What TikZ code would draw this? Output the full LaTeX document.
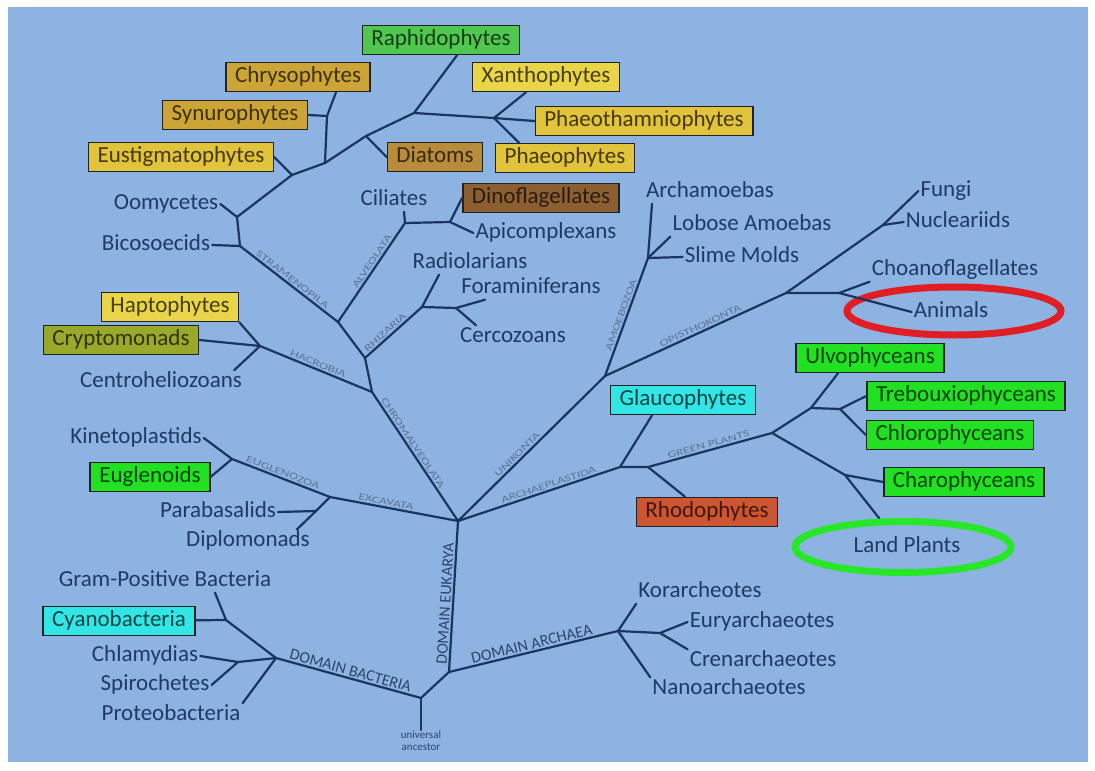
\documentclass[tikz,border=0pt]{standalone}
\usepackage{fontspec}
\setmainfont{Carlito}
\usetikzlibrary{shapes.geometric}

\definecolor{sea}{HTML}{8DB3E2}
\definecolor{navy}{HTML}{1A355F}
\definecolor{ink}{HTML}{1F3A66}
\definecolor{cladegray}{HTML}{5F7393}
\definecolor{domgray}{HTML}{2E4468}
\definecolor{boxline}{HTML}{222222}
\definecolor{raphgreen}{HTML}{50C850}
\definecolor{brightgreen}{HTML}{22E022}
\definecolor{mustard}{HTML}{CDA537}
\definecolor{goldyellow}{HTML}{E1C33C}
\definecolor{paleyellow}{HTML}{EAD548}
\definecolor{ochre}{HTML}{B98C3C}
\definecolor{cocoa}{HTML}{8C5F32}
\definecolor{olivebox}{HTML}{9AA92A}
\definecolor{aqua}{HTML}{33E6E6}
\definecolor{brick}{HTML}{CD5532}
\definecolor{ringred}{HTML}{E11E23}
\definecolor{ringgreen}{HTML}{28E628}

\newcommand{\wideclade}[1]{\scalebox{1.45}[1]{#1}}

\begin{document}
\begin{tikzpicture}[x=1pt,y=-1pt,
  limb/.style={draw=navy,line width=2.2pt,line cap=round,line join=round},
  taxon/.style={text=ink,font=\fontsize{23}{26}\selectfont,inner sep=2pt,text height=15pt,text depth=4pt},
  algabox/.style={taxon,draw=boxline,line width=1.6pt,fill=#1,text=#1!30!black,inner xsep=9pt,inner ysep=4pt,text height=16pt,text depth=5pt},
  clade/.style={text=cladegray,font=\fontsize{9.5}{11}\selectfont,sloped,above,inner sep=1.5pt},
  domainlbl/.style={text=domgray,font=\fontsize{16}{18}\selectfont,sloped,above,inner sep=1.5pt},
  ring/.style={ellipse,draw=#1,line width=7pt,inner sep=0pt}]
% Background
\fill[white] (0,0) rectangle (1095,771);
\fill[sea] (8,7) rectangle (1088,762);
\useasboundingbox (0,0) rectangle (1095,771);
% Junctions
\coordinate (jRoot) at (421,698);
\coordinate (jBact) at (276,658);
\coordinate (jGram) at (226,620);
\coordinate (jChla) at (238,662);
\coordinate (jNeo) at (449,672);
\coordinate (jArch) at (618,631);
\coordinate (jEury) at (660,633);
\coordinate (jEuk) at (458,521);
\coordinate (jExc) at (330,497);
\coordinate (jEugz) at (232,459);
\coordinate (jPara) at (316,511);
\coordinate (jChrom) at (372,392);
\coordinate (jHacr) at (260,346);
\coordinate (jSar) at (365,358);
\coordinate (jRhiz) at (422,307);
\coordinate (jForam) at (456,308);
\coordinate (jStal) at (338,322);
\coordinate (jAlv) at (405,223);
\coordinate (jDino) at (450,222);
\coordinate (jStram) at (240,246);
\coordinate (jOomy) at (237,217);
\coordinate (jEust) at (292,175);
\coordinate (jChry) at (325,163);
\coordinate (jSynu) at (327,116);
\coordinate (jDiat) at (366,136);
\coordinate (jRaph) at (414,113);
\coordinate (jPhaeo) at (494,118);
\coordinate (jUni) at (605,376);
\coordinate (jAmoe) at (648,258);
\coordinate (jOpis) at (786,293);
\coordinate (jFung) at (883,225);
\coordinate (jChoa) at (839,293);
\coordinate (jPlast) at (620,467);
\coordinate (jRhodo) at (648,467);
\coordinate (jGreen) at (772,433);
\coordinate (jChloro) at (811,408);
\coordinate (jTreb) at (840,409);
\coordinate (jStrep) at (845,475);
% Rings
\node[ring=ringred,minimum width=214,minimum height=48] (animalring) at (954,311) {};
\node[ring=ringgreen,minimum width=216,minimum height=51] (landring) at (903,547) {};
% Bacteria
\node[taxon] (gram) at (165,581) {Gram-Positive Bacteria};
\node[algabox=aqua] (cyano) at (119,621) {Cyanobacteria};
\node[taxon] (chlamy) at (145,656) {Chlamydias};
\node[taxon] (spiro) at (155,685) {Spirochetes};
\node[taxon] (proteo) at (171,715) {Proteobacteria};
\node[text=domgray,font=\fontsize{11}{12}\selectfont,align=center,inner sep=1pt] (ancestor) at (421,741) {universal\\ancestor};
% Archaea
\node[taxon] (kor) at (700,592) {Korarcheotes};
\node[taxon] (eury) at (762,622) {Euryarchaeotes};
\node[taxon] (cren) at (763,661) {Crenarchaeotes};
\node[taxon] (nano) at (729,689) {Nanoarchaeotes};
% Excavata
\node[taxon] (kineto) at (136,438) {Kinetoplastids};
\node[algabox=brightgreen] (eugl) at (150,477) {Euglenoids};
\node[taxon] (parab) at (218,512) {Parabasalids};
\node[taxon] (diplo) at (248,541) {Diplomonads};
% Chromalveolata
\node[algabox=paleyellow] (hapto) at (170,307) {Haptophytes};
\node[algabox=olivebox] (crypto) at (121,340) {Cryptomonads};
\node[taxon] (centro) at (161,382) {Centroheliozoans};
\node[taxon] (radio) at (470,263) {Radiolarians};
\node[taxon] (forams) at (531,288) {Foraminiferans};
\node[taxon] (cerco) at (513,337) {Cercozoans};
\node[taxon] (ciliates) at (394,200) {Ciliates};
\node[algabox=cocoa] (dinobox) at (541,198) {Dinoflagellates};
\node[taxon] (apico) at (546,233) {Apicomplexans};
\node[taxon] (oomy) at (166,204) {Oomycetes};
\node[taxon] (bicos) at (156,245) {Bicosoecids};
\node[algabox=goldyellow] (eustig) at (181,157) {Eustigmatophytes};
\node[algabox=mustard] (synuro) at (235,115) {Synurophytes};
\node[algabox=mustard] (chryso) at (298,77) {Chrysophytes};
\node[algabox=ochre] (diatoms) at (435,157) {Diatoms};
\node[algabox=raphgreen] (raphido) at (441,40) {Raphidophytes};
\node[algabox=paleyellow] (xantho) at (546,77) {Xanthophytes};
\node[algabox=goldyellow] (phaeotham) at (644,121) {Phaeothamniophytes};
\node[algabox=goldyellow] (phaeoph) at (565,158) {Phaeophytes};
% Unikonta
\node[taxon] (archam) at (710,192) {Archamoebas};
\node[taxon] (lobose) at (752,225) {Lobose Amoebas};
\node[taxon] (slime) at (742,257) {Slime Molds};
\node[taxon] (fungi) at (946,191) {Fungi};
\node[taxon] (nucl) at (958,222) {Nucleariids};
\node[taxon] (choano) at (955,270) {Choanoflagellates};
\node[taxon] (animals) at (951,312) {Animals};
% Archaeplastida
\node[algabox=aqua] (glauco) at (683,400) {Glaucophytes};
\node[algabox=brick] (rhodo) at (707,512) {Rhodophytes};
\node[algabox=brightgreen] (ulvo) at (870,358) {Ulvophyceans};
\node[algabox=brightgreen] (treb) at (966,396) {Trebouxiophyceans};
\node[algabox=brightgreen] (chloro) at (950,435) {Chlorophyceans};
\node[algabox=brightgreen] (charo) at (964,482) {Charophyceans};
\node[taxon] (landplants) at (907,547) {Land Plants};

% Domains
\draw[limb] (jRoot) -- (ancestor);
\draw[limb] (jBact) -- node[domainlbl] {DOMAIN BACTERIA} (jRoot) -- (jNeo);
\draw[limb] (jNeo) -- node[domainlbl] {DOMAIN ARCHAEA} (jArch);
\draw[limb] (jNeo) -- node[domainlbl,pos=.45] {DOMAIN EUKARYA} (jEuk);
% Bacteria
\draw[limb] (jBact) -- (jGram) -- ([xshift=50pt]gram.south);
\draw[limb] (jGram) -- (cyano);
\draw[limb] (jBact) -- (jChla) -- (chlamy.east);
\draw[limb] (jChla) -- (spiro.east);
\draw[limb] (jBact) -- (proteo.north east);
% Archaea
\draw[limb] (kor.south west) -- (jArch) -- (nano.north west);
\draw[limb] (jArch) -- (jEury) -- (eury.west);
\draw[limb] (jEury) -- (cren.north west);
% Excavata
\draw[limb] (jExc) -- node[clade,pos=.43] {\wideclade{EXCAVATA}} (jEuk);
\draw[limb] (jEugz) -- node[clade] {\wideclade{EUGLENOZOA}} (jExc);
\draw[limb] (kineto.east) -- (jEugz) -- (eugl.east);
\draw[limb] (jExc) -- (jPara) -- ([xshift=-15pt]diplo.north east);
\draw[limb] (parab.east) -- (jPara);
% Chromalveolata
\draw[limb] (jChrom) -- node[clade,pos=.42] {\wideclade{CHROMALVEOLATA}} (jEuk);
\draw[limb] (jHacr) -- node[clade] {\wideclade{HACROBIA}} (jChrom);
\draw[limb] (hapto.south east) -- (jHacr) -- (crypto.east);
\draw[limb] (jHacr) -- ([xshift=-10pt]centro.north east);
\draw[limb] (jChrom) -- (jSar);
\draw[limb] (jSar) -- node[clade,pos=.42] {\wideclade{RHIZARIA}} (jRhiz);
\draw[limb] (jRhiz) -- ([xshift=-31pt]radio.south);
\draw[limb] (jRhiz) -- (jForam) -- ([xshift=26pt]forams.south west);
\draw[limb] (jForam) -- ([xshift=18pt]cerco.north west);
\draw[limb] (jSar) -- (jStal);
\draw[limb] (jStal) -- node[clade,pos=.58] {\wideclade{ALVEOLATA}} (jAlv);
\draw[limb] (jAlv) -- ([xshift=10pt]ciliates.south);
\draw[limb] (jAlv) -- (jDino) -- (dinobox.west);
\draw[limb] (jDino) -- (apico.west);
\draw[limb] (jStram) -- node[clade] {\wideclade{STRAMENOPILA}} (jStal);
\draw[limb] (bicos.east) -- (jStram) -- (jOomy) -- (oomy.east);
\draw[limb] (jOomy) -- (jEust) -- (jChry) -- (jDiat) -- (jRaph) -- ([xshift=16pt]raphido.south);
\draw[limb] (jEust) -- (eustig.east);
\draw[limb] (jChry) -- (jSynu) -- (synuro.east);
\draw[limb] (jSynu) -- ([xshift=38pt]chryso.south);
\draw[limb] (jDiat) -- (diatoms.west);
\draw[limb] (jRaph) -- (jPhaeo) -- (phaeotham.west);
\draw[limb] (jPhaeo) -- ([xshift=-20pt]xantho.south);
\draw[limb] (jPhaeo) -- ([xshift=-46pt]phaeoph.north);
% Unikonta
\draw[limb] (jEuk) -- node[clade,pos=.43] {\wideclade{UNIKONTA}} (jUni);
\draw[limb] (jUni) -- node[clade] {\wideclade{AMOEBOZOA}} (jAmoe);
\draw[limb] (jAmoe) -- ([xshift=-58pt]archam.south);
\draw[limb] (jAmoe) -- (lobose.south west);
\draw[limb] (jAmoe) -- (slime.west);
\draw[limb] (jUni) -- node[clade,pos=.54] {\wideclade{OPISTHOKONTA}} (jOpis) -- (jFung) -- (fungi.west);
\draw[limb] (jFung) -- (nucl.west);
\draw[limb] (jOpis) -- (jChoa) -- (choano.south west);
\draw[limb] (jChoa) -- (animals.west);
% Archaeplastida
\draw[limb] (jEuk) -- node[clade,pos=.57] {\wideclade{ARCHAEPLASTIDA}} (jPlast) -- (jRhodo);
\draw[limb] (jPlast) -- ([xshift=-31pt]glauco.south);
\draw[limb] (jRhodo) -- ([xshift=-22pt]rhodo.north);
\draw[limb] (jRhodo) -- node[clade] {\wideclade{GREEN PLANTS}} (jGreen);
\draw[limb] (jGreen) -- (jChloro) -- ([xshift=-32pt]ulvo.south);
\draw[limb] (jChloro) -- (jTreb) -- (treb.west);
\draw[limb] (jTreb) -- (chloro.west);
\draw[limb] (jGreen) -- (jStrep) -- (charo.west);
\draw[limb] (jStrep) -- ([xshift=-24pt]landring.north);
\end{tikzpicture}
\end{document}
